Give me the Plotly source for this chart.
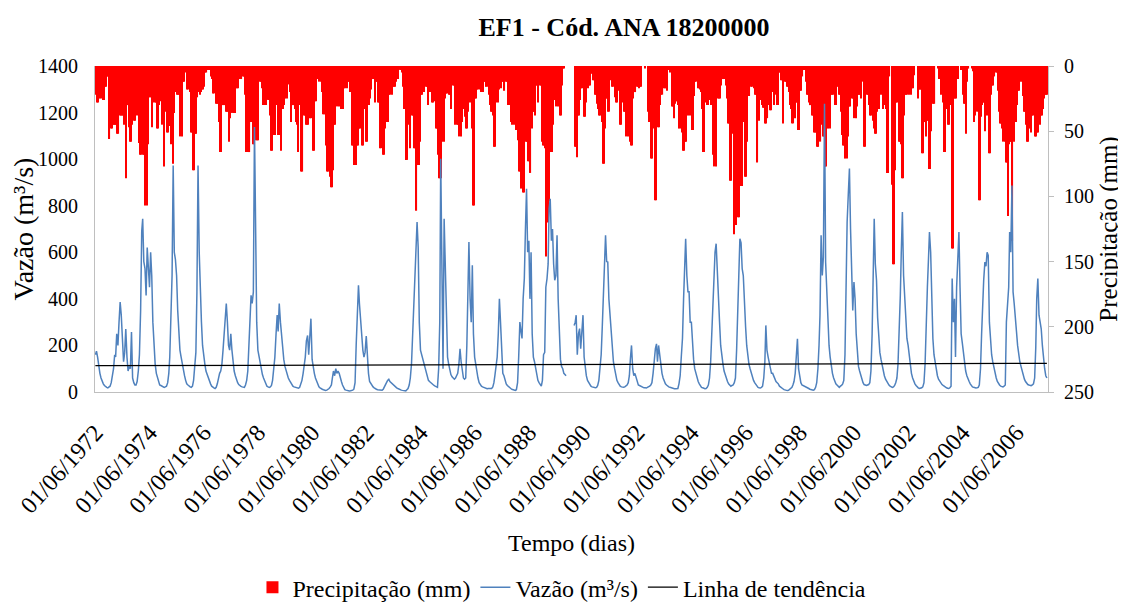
import pandas as pd
import plotly.graph_objects as go

# valores quinzenais (dias 1 e 16) por ano hidrologico, jun -> mai
# vazao em m3/s
vazao_1972 = [160, 175, 150, 110, 80, 60, 45, 35, 28, 22, 20, 18, 20, 25, 40, 70, 100, 160, 150, 250, 200, 300, 386, 330]
vazao_1973 = [180, 130, 170, 270, 150, 90, 110, 100, 258, 60, 40, 30, 30, 45, 90, 160, 350, 690, 744, 560, 530, 415, 620, 520]
vazao_1974 = [450, 600, 500, 300, 190, 120, 80, 60, 40, 30, 28, 25, 22, 20, 22, 25, 40, 80, 150, 300, 500, 973, 600, 570]
vazao_1975 = [500, 350, 250, 180, 150, 120, 90, 70, 50, 35, 30, 25, 22, 20, 25, 50, 100, 170, 430, 973, 600, 420, 300, 200]
vazao_1976 = [140, 120, 90, 75, 60, 45, 35, 25, 20, 18, 15, 20, 35, 60, 80, 90, 120, 180, 250, 300, 380, 300, 200, 180]
vazao_1977 = [250, 180, 120, 90, 70, 50, 40, 32, 27, 24, 22, 20, 20, 30, 50, 90, 200, 300, 415, 380, 430, 1138, 600, 300]
vazao_1978 = [180, 150, 130, 100, 75, 60, 45, 35, 25, 22, 20, 22, 28, 50, 90, 150, 250, 330, 260, 380, 300, 240, 200, 140]
vazao_1979 = [110, 90, 75, 60, 50, 40, 30, 25, 22, 20, 18, 17, 16, 20, 35, 50, 80, 120, 150, 220, 243, 160, 250, 315]
vazao_1980 = [140, 100, 80, 60, 45, 30, 22, 18, 14, 12, 10, 8, 7, 8, 10, 15, 22, 30, 60, 90, 70, 100, 80, 90]
vazao_1981 = [80, 55, 45, 30, 15, 10, 8, 6, 5, 4, 5, 6, 8, 12, 40, 200, 330, 458, 380, 300, 250, 180, 150, 170]
vazao_1982 = [240, 130, 80, 45, 35, 28, 22, 18, 14, 12, 10, 10, 8, 8, 8, 12, 20, 30, 40, 50, 55, 45, 40, 35]
vazao_1983 = [30, 25, 22, 18, 15, 12, 10, 8, 7, 6, 5, 5, 10, 15, 30, 60, 120, 250, 372, 520, 600, 730, 620, 300]
vazao_1984 = [180, 160, 150, 120, 100, 80, 60, 50, 45, 40, 35, 30, 28, 25, 22, 20, 100, 300, 1002, 500, 100, 744, 500, 300]
vazao_1985 = [150, 120, 90, 75, 65, 60, 55, 60, 70, 80, 120, 186, 130, 80, 60, 55, 60, 200, 400, 644, 400, 300, 544, 250]
vazao_1986 = [150, 120, 80, 60, 40, 30, 25, 22, 20, 18, 15, 14, 15, 14, 13, 15, 22, 40, 70, 100, 150, 250, 400, 300]
vazao_1987 = [150, 80, 70, 45, 35, 28, 22, 18, 15, 12, 10, 8, 7, 10, 40, 150, 300, 260, 230, 400, 487, 700, 873, 600]
vazao_1988 = [650, 400, 600, 250, 150, 130, 100, 70, 50, 40, 30, 25, 50, 160, 170, 450, 487, 550, 787, 830, 650, 700, 550, 480]
vazao_1989 = [500, 673, 400, 250, 140, 110, 100, 80, 75, 70, None, None, None, None, None, None, 286, 300, 330, 160, 250, 272, 186, 250]
vazao_1990 = [330, 150, 100, 70, 50, 40, 30, 25, 22, 20, 18, 18, 20, 28, 50, 110, 160, 280, 400, 550, 673, 560, 558, 400]
vazao_1991 = [320, 240, 170, 130, 100, 70, 50, 40, 30, 25, 22, 20, 20, 22, 25, 30, 40, 70, 143, 200, 100, 70, 80, 60]
vazao_1992 = [40, 30, 28, 25, 22, 20, 18, 18, 17, 20, 22, 25, 30, 40, 80, 150, 186, 207, 130, 200, 150, 100, 80, 60]
vazao_1993 = [45, 35, 30, 25, 22, 20, 18, 16, 15, 14, 14, 15, 15, 35, 70, 150, 230, 400, 558, 658, 500, 430, 430, 300]
vazao_1994 = [300, 200, 140, 100, 80, 60, 45, 35, 25, 20, 18, 15, 14, 15, 20, 30, 60, 130, 250, 372, 515, 600, 637, 500]
vazao_1995 = [400, 300, 200, 150, 120, 90, 70, 60, 45, 35, 30, 25, 28, 30, 40, 60, 180, 350, 550, 658, 640, 530, 500, 350]
vazao_1996 = [280, 200, 150, 120, 100, 80, 65, 50, 40, 32, 25, 20, 18, 17, 20, 25, 60, 130, 286, 180, 150, 120, 100, 80]
vazao_1997 = [80, 65, 55, 45, 40, 35, 25, 20, 17, 14, 10, 8, 6, 6, 7, 10, 15, 20, 30, 45, 80, 172, 229, 100]
vazao_1998 = [60, 40, 30, 28, 25, 22, 20, 18, 15, 12, 10, 8, 8, 10, 20, 40, 100, 200, 330, 673, 500, 580, 1238, 558]
vazao_1999 = [430, 300, 200, 150, 110, 80, 60, 45, 35, 30, 25, 20, 25, 28, 35, 50, 160, 600, 730, 845, 960, 700, 500, 350]
vazao_2000 = [472, 400, 250, 150, 110, 90, 70, 55, 40, 32, 30, 28, 30, 32, 40, 90, 250, 644, 744, 550, 480, 320, 230, 170]
vazao_2001 = [140, 110, 90, 70, 55, 45, 35, 30, 25, 22, 20, 22, 28, 40, 60, 120, 250, 415, 600, 773, 500, 400, 300, 230]
vazao_2002 = [200, 150, 110, 80, 60, 45, 35, 28, 22, 18, 15, 15, 18, 22, 40, 120, 330, 450, 558, 687, 600, 350, 230, 160]
vazao_2003 = [120, 90, 70, 55, 45, 38, 32, 28, 24, 20, 18, 16, 15, 18, 25, 487, 300, 400, 150, 450, 600, 687, 450, 250]
vazao_2004 = [210, 160, 120, 90, 70, 55, 45, 35, 28, 22, 20, 18, 17, 18, 20, 30, 100, 250, 380, 480, 558, 540, 600, 587]
vazao_2005 = [300, 200, 160, 130, 100, 80, 60, 45, 35, 30, 25, 22, 22, 25, 30, 300, 380, 450, 687, 600, 887, 430, 380, 300]
vazao_2006 = [260, 200, 160, 130, 110, 90, 70, 55, 45, 38, 32, 30, 28, 27, 30, 35, 60, 190, 400, 487, 330, 300, 270, 200]
vazao_2007 = [130, 100, 70, 60]

# precipitacao maxima diaria na quinzena (mm)
chuva_1972 = [22, 28, 28, 16, 25, 25, 26, 26, 16, 16, 8, 8, 56, 48, 48, 45, 45, 45, 45, 52, 52, 38, 38, 38]
chuva_1973 = [38, 45, 30, 86, 30, 47, 58, 58, 45, 40, 42, 42, 38, 35, 59, 68, 68, 62, 68, 68, 107, 107, 60, 24]
chuva_1974 = [24, 24, 47, 28, 28, 28, 48, 48, 30, 27, 25, 45, 77, 35, 33, 51, 51, 46, 46, 60, 75, 36, 20, 20]
chuva_1975 = [22, 22, 22, 54, 54, 12, 12, 5, 3, 18, 18, 20, 51, 51, 80, 80, 52, 52, 24, 20, 22, 20, 18, 18]
chuva_1976 = [16, 5, 5, 3, 3, 3, 8, 10, 21, 21, 29, 29, 29, 43, 66, 66, 30, 30, 30, 35, 35, 35, 58, 40]
chuva_1977 = [35, 36, 36, 36, 17, 17, 17, 10, 10, 10, 8, 8, 22, 66, 66, 30, 66, 43, 43, 60, 60, 43, 57, 57]
chuva_1978 = [57, 12, 12, 17, 30, 30, 16, 30, 26, 26, 38, 65, 65, 33, 53, 53, 30, 53, 53, 42, 65, 33, 33, 30]
chuva_1979 = [25, 25, 14, 14, 20, 43, 30, 30, 33, 43, 45, 66, 30, 30, 81, 81, 38, 38, 45, 45, 45, 35, 40, 40]
chuva_1980 = [65, 65, 27, 27, 10, 10, 12, 12, 20, 37, 37, 37, 61, 81, 81, 85, 93, 93, 80, 45, 45, 23, 31, 31]
chuva_1981 = [23, 33, 33, 33, 17, 17, 17, 12, 12, 20, 20, 61, 61, 76, 76, 61, 61, 48, 48, 35, 61, 61, 33, 58]
chuva_1982 = [58, 30, 30, 25, 18, 10, 10, 28, 12, 12, 28, 28, 63, 63, 68, 68, 48, 28, 43, 43, 22, 22, 22, 16]
chuva_1983 = [16, 16, 12, 10, 10, 3, 3, 5, 16, 33, 33, 72, 72, 45, 63, 25, 38, 38, 63, 63, 111, 76, 76, 58]
chuva_1984 = [22, 22, 18, 20, 16, 16, 30, 20, 20, 18, 28, 28, 27, 48, 48, 68, 86, 86, 86, 58, 58, 25, 21, 21]
chuva_1985 = [15, 22, 22, 33, 15, 15, 45, 42, 45, 45, 54, 54, 43, 33, 33, 39, 48, 48, 35, 28, 28, 48, 107, 107]
chuva_1986 = [25, 25, 18, 18, 18, 20, 20, 20, 12, 12, 16, 16, 22, 30, 35, 35, 38, 62, 62, 28, 28, 18, 15, 17]
chuva_1987 = [12, 12, 19, 12, 12, 30, 30, 10, 43, 45, 45, 2, 49, 49, 57, 81, 81, 94, 97, 97, 48, 58, 58, 73]
chuva_1988 = [73, 82, 48, 35, 35, 38, 15, 15, 28, 15, 15, 58, 61, 61, 63, 146, 120, 104, 63, 66, 66, 45, 26, 26]
chuva_1989 = [31, 31, 14, 38, 38, 15, 2, 2, None, None, None, None, None, None, None, None, 62, 62, 70, 38, 38, 26, 17, 17]
chuva_1990 = [39, 39, 28, 2, 17, 15, 15, 6, 11, 11, 22, 22, 29, 33, 38, 38, 43, 75, 75, 48, 25, 25, 35, 35]
chuva_1991 = [11, 16, 16, 11, 24, 28, 28, 19, 45, 45, 28, 22, 35, 35, 54, 54, 28, 58, 61, 61, 25, 20, 20, 16]
chuva_1992 = [16, 17, 16, 16, 0, 0, 2, 0, 0, 35, 43, 43, 71, 71, 48, 103, 103, 30, 47, 47, 30, 22, 22, 17]
chuva_1993 = [17, 17, 19, 3, 3, 5, 31, 31, 40, 29, 27, 27, 30, 48, 48, 51, 65, 65, 58, 58, 25, 38, 38, 24]
chuva_1994 = [49, 49, 23, 12, 12, 17, 17, 18, 20, 33, 66, 66, 28, 30, 30, 26, 20, 30, 30, 68, 77, 77, 16, 25]
chuva_1995 = [25, 25, 15, 5, 10, 10, 15, 25, 44, 44, 88, 88, 52, 129, 122, 122, 84, 116, 116, 92, 92, 43, 23, 85]
chuva_1996 = [85, 58, 23, 23, 16, 16, 12, 17, 22, 22, 74, 42, 26, 26, 30, 32, 32, 44, 44, 40, 30, 34, 34, 20]
chuva_1997 = [17, 30, 22, 30, 30, 5, 5, 11, 11, 44, 12, 12, 16, 16, 20, 30, 33, 44, 44, 40, 28, 28, 49, 49]
chuva_1998 = [19, 19, 8, 3, 3, 12, 22, 22, 28, 30, 38, 38, 51, 51, 51, 62, 62, 30, 58, 45, 54, 54, 77, 77]
chuva_1999 = [30, 48, 48, 22, 22, 22, 16, 30, 30, 16, 22, 22, 35, 53, 61, 61, 71, 71, 54, 31, 31, 22, 25, 25]
chuva_2000 = [40, 40, 31, 22, 22, 22, 25, 12, 62, 62, 20, 22, 22, 30, 38, 38, 42, 48, 52, 52, 35, 33, 33, 22]
chuva_2001 = [22, 33, 30, 30, 33, 82, 82, 8, 0, 91, 152, 152, 80, 28, 28, 58, 58, 60, 86, 86, 38, 22, 22, 22]
chuva_2002 = [22, 16, 22, 17, 17, 7, 0, 0, 25, 18, 18, 18, 67, 67, 43, 54, 42, 42, 79, 79, 50, 25, 29, 29]
chuva_2003 = [0, 0, 2, 10, 10, 22, 28, 66, 66, 33, 30, 45, 45, 30, 140, 140, 25, 25, 25, 10, 10, 0, 3, 3]
chuva_2004 = [22, 29, 29, 52, 12, 2, 0, 0, 2, 4, 43, 38, 35, 35, 103, 103, 39, 30, 28, 28, 50, 38, 38, 67]
chuva_2005 = [67, 22, 15, 15, 8, 5, 5, 19, 35, 44, 44, 48, 58, 58, 74, 74, 115, 60, 58, 58, 134, 58, 43, 43]
chuva_2006 = [30, 19, 19, 12, 12, 23, 35, 35, 45, 58, 58, 48, 51, 38, 38, 30, 54, 54, 51, 51, 45, 38, 38, 33]
chuva_2007 = [25, 22, 22, 22]

# linha de tendencia (extremos)
tendencia_datas = ["1972-06-01", "2007-07-16"]
tendencia_valores = [113, 123]

anos = list(range(1972, 2008))
vazao_anos = [vazao_1972, vazao_1973, vazao_1974, vazao_1975, vazao_1976, vazao_1977, vazao_1978,
              vazao_1979, vazao_1980, vazao_1981, vazao_1982, vazao_1983, vazao_1984, vazao_1985,
              vazao_1986, vazao_1987, vazao_1988, vazao_1989, vazao_1990, vazao_1991, vazao_1992,
              vazao_1993, vazao_1994, vazao_1995, vazao_1996, vazao_1997, vazao_1998, vazao_1999,
              vazao_2000, vazao_2001, vazao_2002, vazao_2003, vazao_2004, vazao_2005, vazao_2006,
              vazao_2007]
chuva_anos = [chuva_1972, chuva_1973, chuva_1974, chuva_1975, chuva_1976, chuva_1977, chuva_1978,
              chuva_1979, chuva_1980, chuva_1981, chuva_1982, chuva_1983, chuva_1984, chuva_1985,
              chuva_1986, chuva_1987, chuva_1988, chuva_1989, chuva_1990, chuva_1991, chuva_1992,
              chuva_1993, chuva_1994, chuva_1995, chuva_1996, chuva_1997, chuva_1998, chuva_1999,
              chuva_2000, chuva_2001, chuva_2002, chuva_2003, chuva_2004, chuva_2005, chuva_2006,
              chuva_2007]

# datas quinzenais de cada ano hidrologico
datas, vazao, chuva = [], [], []
for ano, vz, ch in zip(anos, vazao_anos, chuva_anos):
    meses = [(ano, m) for m in range(6, 13)] + [(ano + 1, m) for m in range(1, 6)]
    dd = []
    for (a, m) in meses:
        dd.append(pd.Timestamp(a, m, 1))
        dd.append(pd.Timestamp(a, m, 16))
    dd = dd[:len(vz)]
    datas += dd
    vazao += vz
    chuva += ch

largura = 15.2 * 24 * 3600 * 1000  # uma quinzena em ms

fig = go.Figure()
fig.add_trace(go.Bar(x=datas, y=chuva, name="Precipitação (mm)", yaxis="y",
                     marker=dict(color="#FF0000", line=dict(width=0)),
                     width=largura, offset=0))
fig.add_trace(go.Scatter(x=datas, y=vazao, name="Vazão (m³/s)", yaxis="y2", mode="lines",
                         line=dict(color="#4F81BD", width=1.5)))
fig.add_trace(go.Scatter(x=tendencia_datas, y=tendencia_valores, name="Linha de tendência",
                         yaxis="y2", mode="lines", line=dict(color="black", width=1.3)))

# a pagina tem margem de 8px no body: figura um pouco menor
fig.update_layout(
    width=1118, height=595,
    margin=dict(l=87, r=78, t=58, b=211, autoexpand=False),
    plot_bgcolor="white", paper_bgcolor="white",
    font=dict(family="Liberation Serif", color="black", size=20),
    title=dict(text="<b>EF1 - Cód. ANA 18200000</b>", x=0.551, xanchor="center",
               y=0.968, yanchor="middle", font=dict(size=26)),
    showlegend=True,
    legend=dict(orientation="h", x=0.49, xanchor="center", y=-0.6, yanchor="middle",
                font=dict(size=24), itemwidth=30, traceorder="normal"),
    xaxis=dict(type="date", range=["1972-05-27", "2007-07-31"],
               tick0="1972-06-01", dtick="M24", tickformat="%d/%m/%Y", tickangle=-48,
               tickfont=dict(size=24), showgrid=False, zeroline=False,
               showline=True, linecolor="#BFBFBF", ticks="", ticklabelstandoff=16,
               title=dict(text="Tempo (dias)", font=dict(size=24), standoff=16)),
    yaxis=dict(side="right", range=[250, 0], dtick=50, showgrid=False, zeroline=False,
               showline=True, linecolor="#BFBFBF", ticks="outside", ticklen=5, tickcolor="#BFBFBF",
               tickfont=dict(size=20), ticklabelstandoff=6,
               title=dict(text="Precipitação (mm)", font=dict(size=25), standoff=6)),
    yaxis2=dict(overlaying="y", side="left", range=[0, 1400], dtick=200, showgrid=False,
                zeroline=False, showline=True, linecolor="#BFBFBF", ticks="",
                tickfont=dict(size=20), ticklabelstandoff=12,
                title=dict(text="Vazão (m³/s)", font=dict(size=28), standoff=0)),
)

fig.write_html("out.html")
